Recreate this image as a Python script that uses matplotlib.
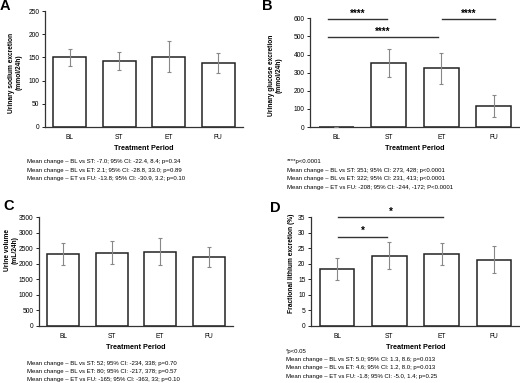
import numpy as np
import matplotlib
matplotlib.use("Agg")
import matplotlib.pyplot as plt

plt.rcParams['font.family'] = ['Liberation Sans Narrow', 'Liberation Sans', 'DejaVu Sans']

periods = ['BL', 'ST', 'ET', 'FU']

sodium = [150, 143, 152, 138]
sodium_lo = [131, 123, 119, 117]
sodium_hi = [168, 162, 185, 159]

glucose = [2, 353, 324, 116]
glucose_lo = [2, 274, 237, 55]
glucose_hi = [2, 431, 410, 175]

volume = [2305, 2358, 2391, 2229]
volume_lo = [1960, 1981, 1971, 1895]
volume_hi = [2660, 2746, 2821, 2552]

lithium = [18.2, 22.6, 23.0, 21.3]
lithium_lo = [14.8, 18.4, 19.6, 17.0]
lithium_hi = [21.8, 27.0, 26.8, 25.8]

notes_a = ['Mean change \u2013 BL vs ST: -7.0; 95% CI: -22.4, 8.4; p=0.34',
           'Mean change \u2013 BL vs ET: 2.1; 95% CI: -28.8, 33.0; p=0.89',
           'Mean change \u2013 ET vs FU: -13.8; 95% CI: -30.9, 3.2; p=0.10']
notes_b = ['****p<0.0001',
           'Mean change \u2013 BL vs ST: 351; 95% CI: 273, 428; p<0.0001',
           'Mean change \u2013 BL vs ET: 322; 95% CI: 231, 413; p<0.0001',
           'Mean change \u2013 ET vs FU: -208; 95% CI: -244, -172; P<0.0001']
notes_c = ['Mean change \u2013 BL vs ST: 52; 95% CI: -234, 338; p=0.70',
           'Mean change \u2013 BL vs ET: 80; 95% CI: -217, 378; p=0.57',
           'Mean change \u2013 ET vs FU: -165; 95% CI: -363, 33; p=0.10']
notes_d = ['*p<0.05',
           'Mean change \u2013 BL vs ST: 5.0; 95% CI: 1.3, 8.6; p=0.013',
           'Mean change \u2013 BL vs ET: 4.6; 95% CI: 1.2, 8.0; p=0.013',
           'Mean change \u2013 ET vs FU: -1.8; 95% CI: -5.0, 1.4; p=0.25']

W, H = 520, 383
fig = plt.figure(figsize=(W / 100, H / 100), dpi=100)


def px_axes(left, right, top, bottom):
    return fig.add_axes([left / W, (H - bottom) / H, (right - left) / W, (bottom - top) / H])


def ftext(x, y, s, **kw):
    fig.text(x / W, 1 - y / H, s, **kw)


def panel(ax, vals, lo, hi, ymax, step, ylabel, labely):
    x = np.arange(len(periods))
    vals = np.array(vals)
    err = [vals - np.array(lo), np.array(hi) - vals]
    ax.bar(x, vals, width=0.66, color='white', edgecolor='#222222', linewidth=1.1, zorder=2)
    ax.errorbar(x, vals, yerr=err, fmt='none', ecolor='#888888', elinewidth=0.8,
                capsize=1.2, capthick=0.8, zorder=3)
    ax.set_xlim(-0.5, len(periods) - 0.5)
    ax.set_ylim(0, ymax)
    ax.set_yticks(np.arange(0, ymax + step / 2, step))
    ax.set_xticks(x)
    ax.set_xticklabels(periods)
    for s in ['top', 'right']:
        ax.spines[s].set_visible(False)
    for s in ['left', 'bottom']:
        ax.spines[s].set_color('#333333')
        ax.spines[s].set_linewidth(0.9)
    ax.tick_params(axis='y', length=2, width=0.6, labelsize=4.8, pad=2)
    ax.tick_params(axis='x', length=0, labelsize=4.8, pad=5)
    ax.set_xlabel('Treatment Period', fontsize=5.2, fontweight='bold', labelpad=3)
    ax.set_ylabel(ylabel, fontsize=4.8, fontweight='bold', linespacing=1.1)
    ax.yaxis.set_label_coords(labely[0], labely[1])


def sig(ax, x0, x1, y, label, ty, size):
    ax.plot([x0, x1], [y, y], color='#333333', lw=1.0, clip_on=False)
    ax.text((x0 + x1) / 2, ty, label, ha='center', va='center', fontsize=size,
            fontweight='bold', clip_on=False)


ax_a = px_axes(45, 243, 11.3, 126.7)
panel(ax_a, sodium, sodium_lo, sodium_hi, 250, 50,
      'Urinary sodium excretion\n(mmol/24h)', (-0.115, 0.47))

ax_b = px_axes(310, 520, 18.3, 127)
panel(ax_b, glucose, glucose_lo, glucose_hi, 600, 100,
      'Urinary glucose excretion\n(mmol/24h)', (-0.13, 0.48))
sig(ax_b, -0.16, 0.97, 596, '****', 625, 7)
sig(ax_b, -0.16, 1.93, 497, '****', 524, 7)
sig(ax_b, 2.01, 3.02, 596, '****', 625, 7)

ax_c = px_axes(39, 233, 217.3, 325.7)
panel(ax_c, volume, volume_lo, volume_hi, 3500, 500,
      'Urine volume\n(mL/24h)', (-0.105, 0.70))

ax_d = px_axes(311, 520, 217.3, 325.7)
panel(ax_d, lithium, lithium_lo, lithium_hi, 35, 5,
      'Fractional lithium excretion (%)', (-0.075, 0.58))
sig(ax_d, 0.02, 2.03, 35.2, '*', 36.8, 7)
sig(ax_d, 0.02, 0.95, 28.7, '*', 30.6, 7)

for lab, x, y in [('A', 0, 10), ('B', 262, 10), ('C', 3, 210), ('D', 270, 212)]:
    ftext(x, y, lab, fontsize=10.5, fontweight='bold', va='baseline', ha='left',
          family=['Liberation Sans', 'DejaVu Sans'])

for notes, x, y0 in [(notes_a, 27, 162), (notes_b, 287, 162),
                     (notes_c, 27, 363), (notes_d, 286, 351)]:
    for i, s in enumerate(notes):
        ftext(x, y0 + i * 8.4, s, fontsize=4.3, va='center', ha='left')

fig.savefig('out.png', dpi=100)
